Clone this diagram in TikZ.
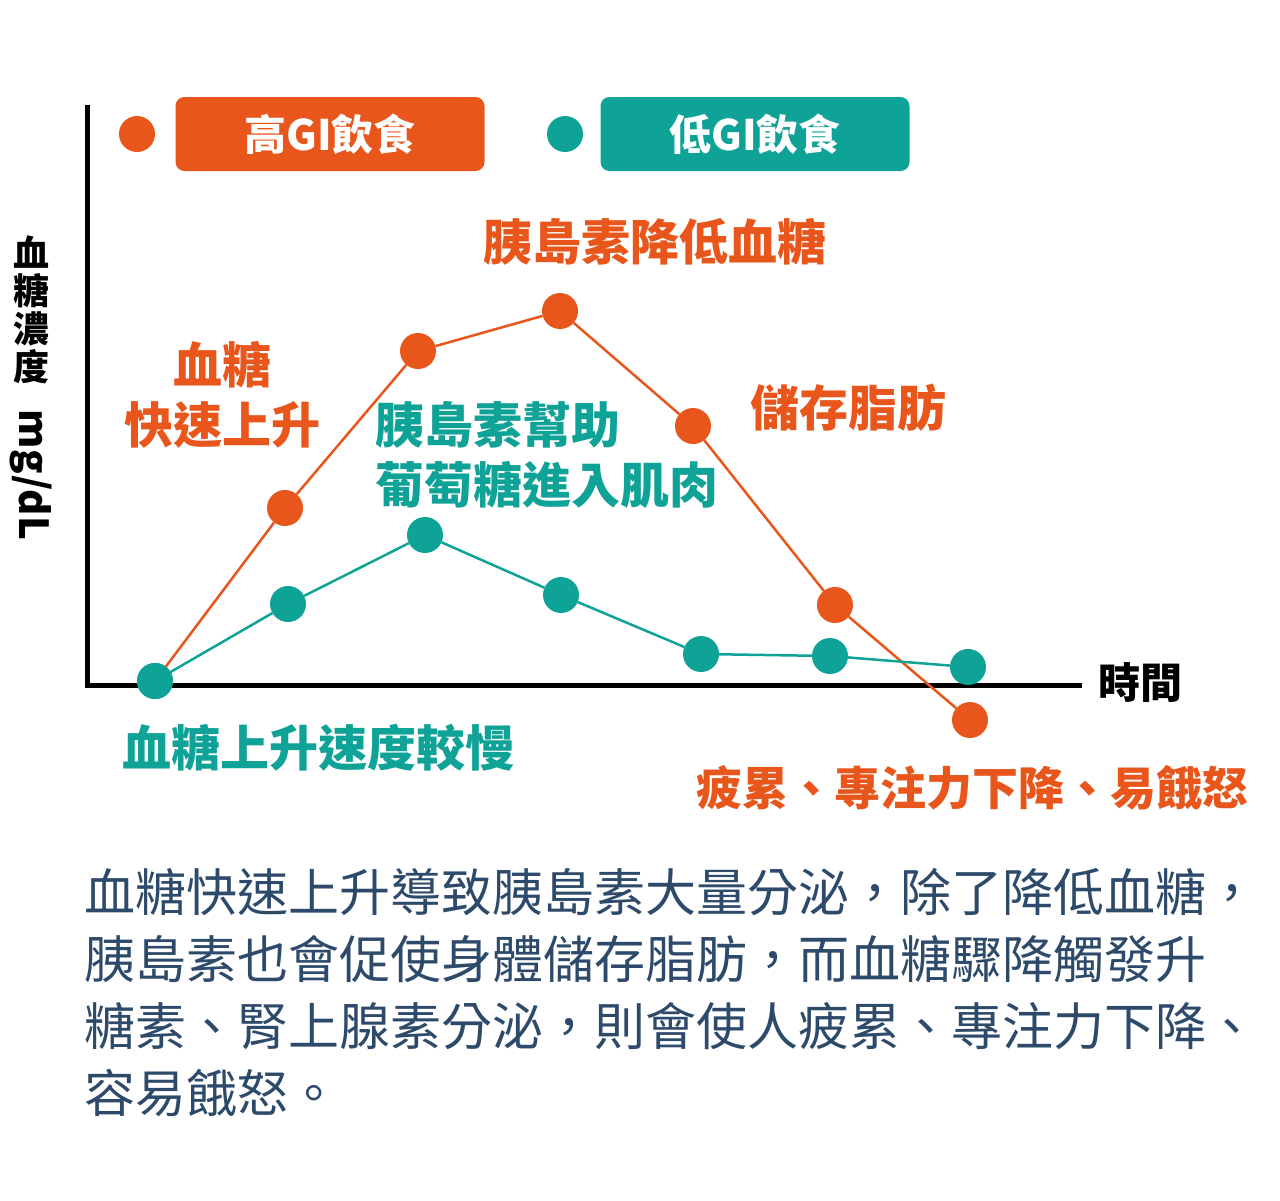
\documentclass[tikz,border=0pt]{standalone}
\usepackage{fontspec}
\setmainfont{Noto Sans CJK TC}
\usetikzlibrary{positioning}
\definecolor{hiorange}{HTML}{E8561C}
\definecolor{loteal}{HTML}{0FA296}
\definecolor{textblue}{HTML}{2E4A6B}

\begin{document}
\begin{tikzpicture}
    [
      x=1pt,y=-1pt,
      hidot/.style={circle,inner sep=0pt,minimum size=36pt,fill=hiorange},
      lodot/.style={circle,inner sep=0pt,minimum size=36pt,fill=loteal},
      hiline/.style={hiorange,line width=2.5pt},
      loline/.style={loteal,line width=2.5pt},
      legendbox/.style={rounded corners=9pt,minimum width=309pt,minimum height=74pt,text=white,font=\fontsize{42}{46}\selectfont\bfseries},
      hilabel/.style={text=hiorange,font=\fontsize{49}{60}\selectfont\bfseries,align=center},
      lolabel/.style={text=loteal,font=\fontsize{49}{60}\selectfont\bfseries,align=left},
      axis/.style={line width=5pt},
    ]
    \useasboundingbox (0,0) rectangle (1280,1200);

    % axes
    \coordinate (origin) at (87,685);
    \coordinate (y-top) at (87,105);
    \coordinate (x-end) at (1082,685);
    \draw [axis] (y-top) -- (origin) -- (x-end);
    \node (x-label) [font=\fontsize{42}{44}\selectfont\bfseries] at (1140,683) {時間};
    \node (y-label) [font=\fontsize{36}{38}\selectfont\bfseries,align=center] at (31,310) {血\\糖\\濃\\度};
    \node (y-unit) [font=\fontsize{40}{44}\selectfont\bfseries,rotate=-90] at (31,475) {mg/dL};

    % legend
    \node (hi-dot) [hidot] at (137,134) {};
    \node (hi-box) [legendbox,fill=hiorange] at (330,134) {高GI飲食};
    \node (lo-dot) [lodot] at (565,134) {};
    \node (lo-box) [legendbox,fill=loteal] at (755,134) {低GI飲食};

    % high GI curve
    \node (hi-1) [hidot] at (285,508) {};
    \node (hi-2) [hidot] at (418,351) {};
    \node (hi-3) [hidot] at (560,311) {};
    \node (hi-4) [hidot] at (693,426) {};
    \node (hi-5) [hidot] at (835,605) {};
    \node (hi-6) [hidot] at (970,720) {};

    % low GI curve
    \node (lo-0) [lodot] at (155,681) {};
    \node (lo-1) [lodot] at (288,604) {};
    \node (lo-2) [lodot] at (425,535) {};
    \node (lo-3) [lodot] at (561,595) {};
    \node (lo-4) [lodot] at (701,654) {};
    \node (lo-5) [lodot] at (830,656) {};
    \node (lo-6) [lodot] at (968,667) {};

    \path [hiline]
    (lo-0.center) edge (hi-1)
    (hi-1) edge (hi-2)
    (hi-2) edge (hi-3)
    (hi-3) edge (hi-4)
    (hi-4) edge (hi-5)
    (hi-5) edge (hi-6)
    ;
    \path [loline]
    (lo-0) edge (lo-1)
    (lo-1) edge (lo-2)
    (lo-2) edge (lo-3)
    (lo-3) edge (lo-4)
    (lo-4) edge (lo-5)
    (lo-5) edge (lo-6)
    ;
    \node [lodot] at (lo-0) {};

    % labels
    \node (peak-label) [hilabel] at (655,242) {胰島素降低血糖};
    \node (rise-label) [hilabel] at (222,395) {血糖\\快速上升};
    \node (fat-label) [hilabel] at (848,408) {儲存脂肪};
    \node (drop-label) [hilabel,font=\fontsize{46}{60}\selectfont\bfseries] at (972,788) {疲累、專注力下降、易餓怒};
    \node (muscle-label) [lolabel,anchor=north west] at (372,398) {胰島素幫助\\葡萄糖進入肌肉};
    \node (slow-label) [lolabel] at (318,748) {血糖上升速度較慢};

    % caption
    \node (caption) [anchor=north west,text=textblue,align=left,inner sep=0pt,
      font=\fontsize{51}{67}\selectfont] at (84,868)
      {血糖快速上升導致胰島素大量分泌，除了降低血糖，\\
       胰島素也會促使身體儲存脂肪，而血糖驟降觸發升\\
       糖素、腎上腺素分泌，則會使人疲累、專注力下降、\\
       容易餓怒。};
\end{tikzpicture}
\end{document}
